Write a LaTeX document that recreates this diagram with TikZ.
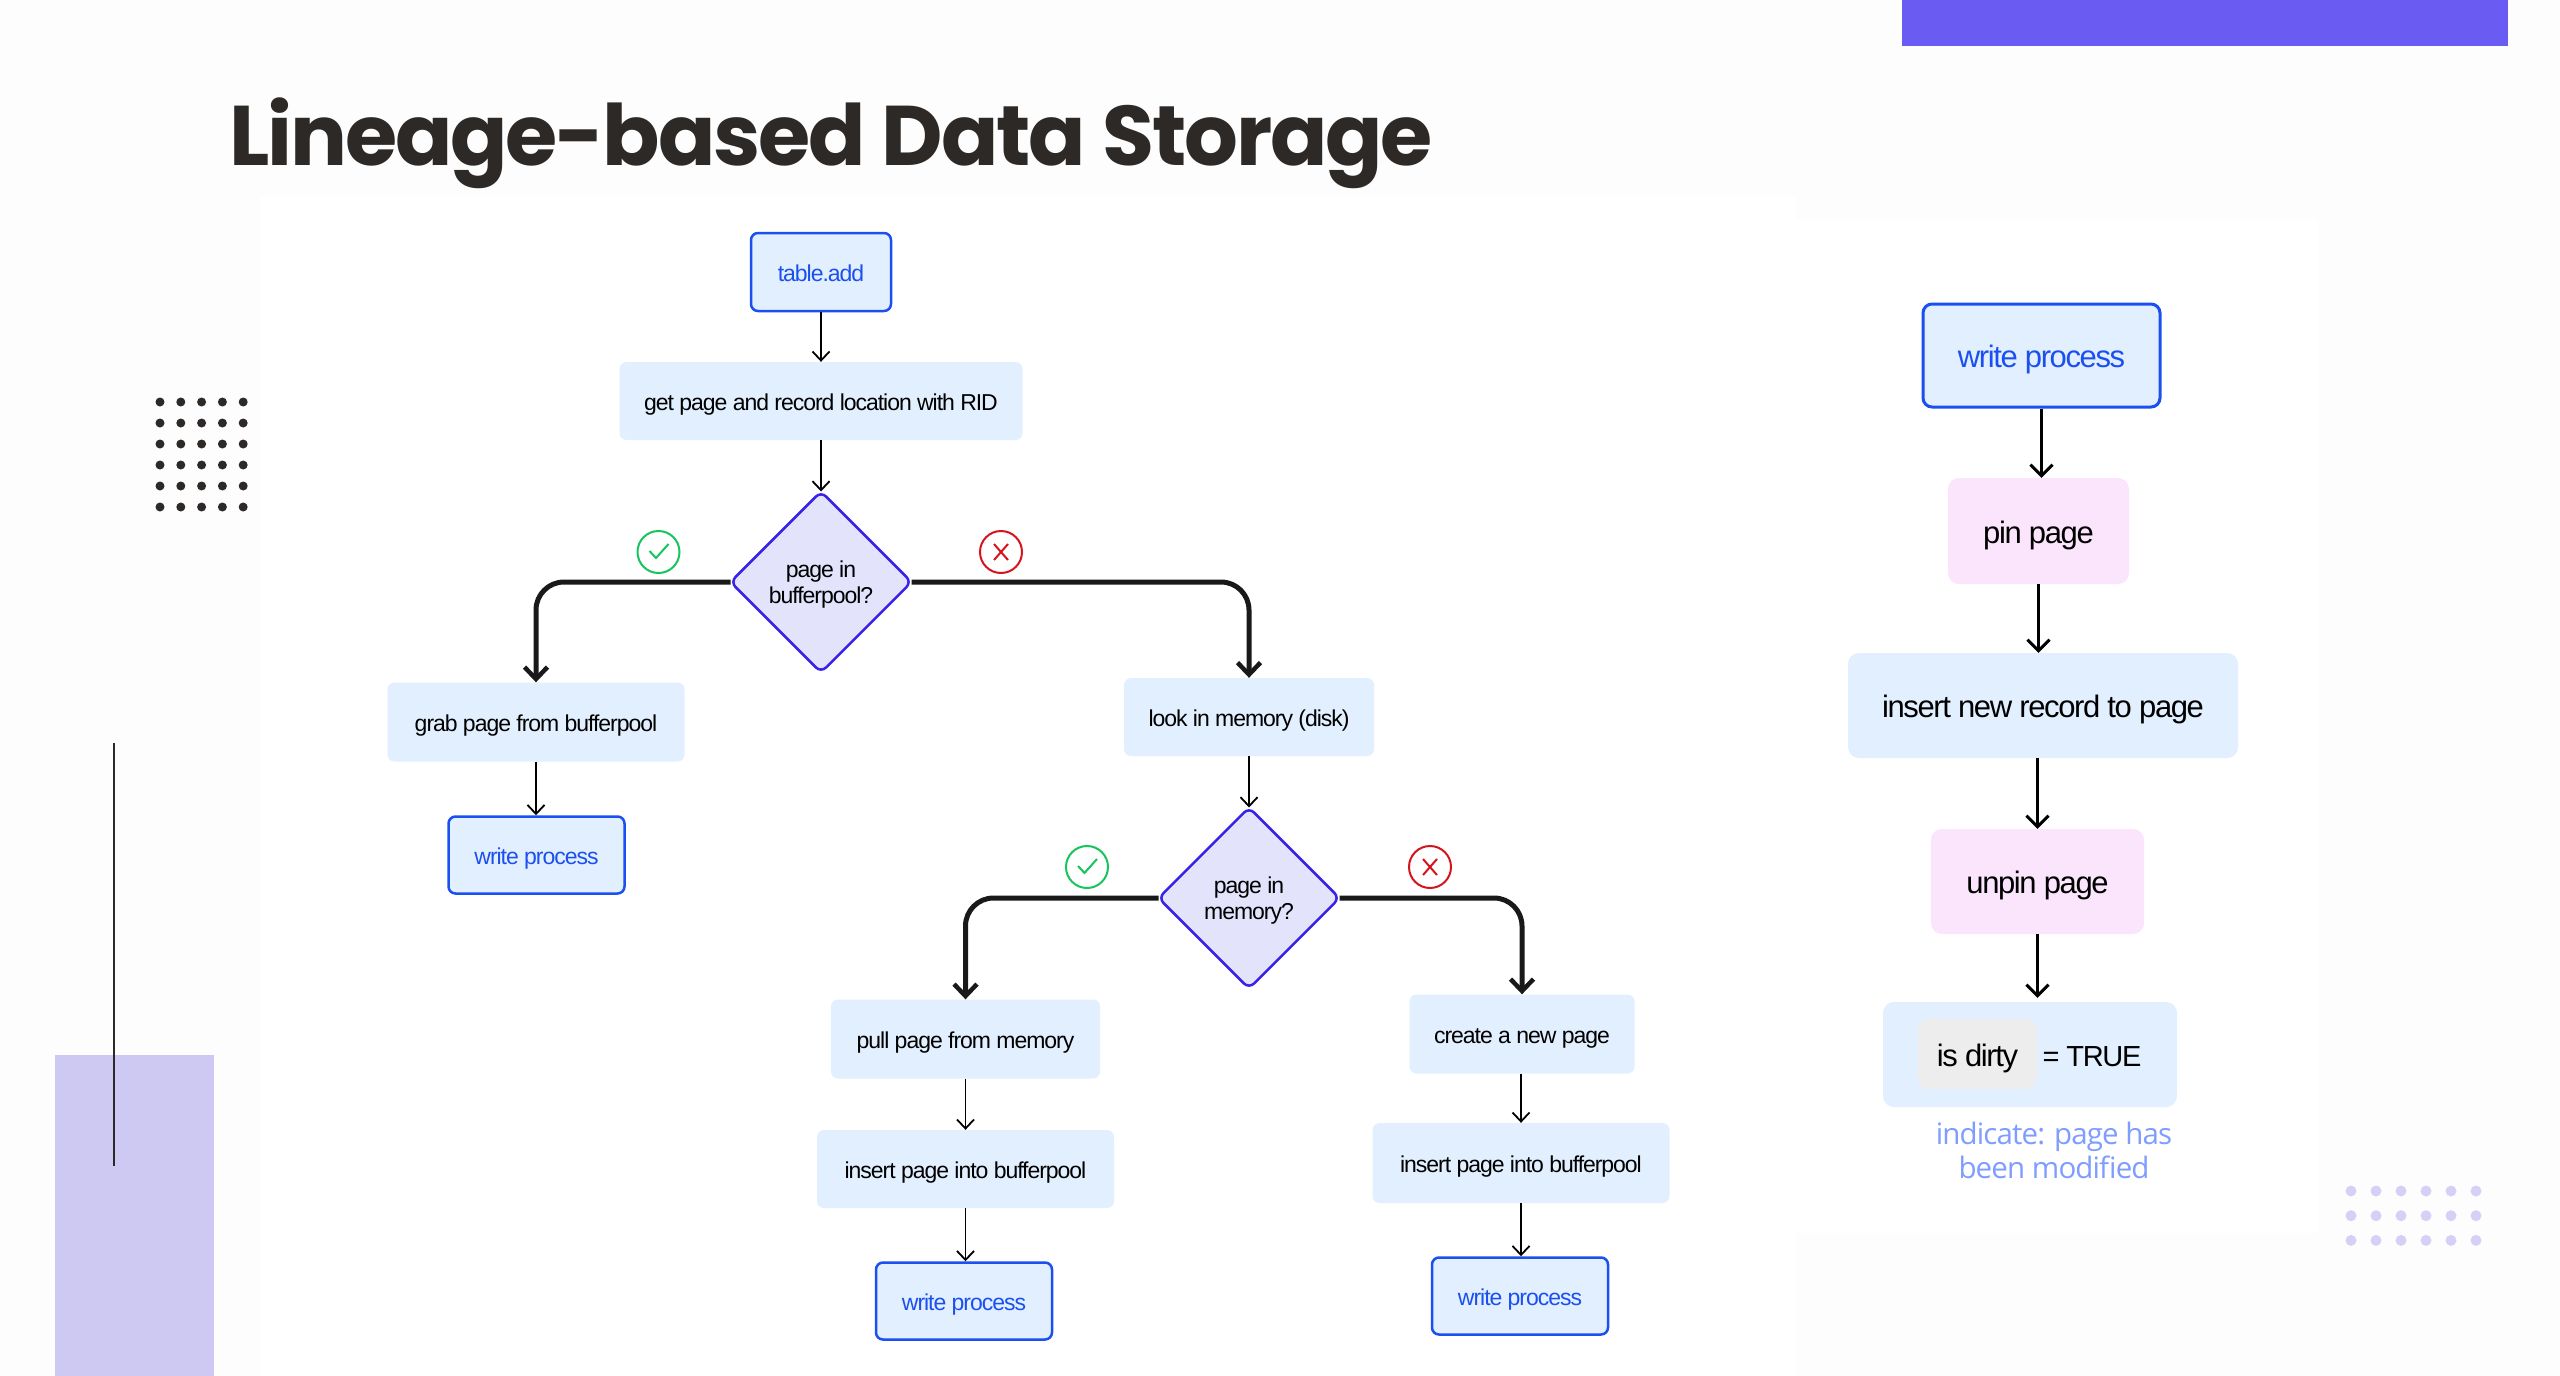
\documentclass[tikz,border=0pt]{standalone}
\usepackage{fontspec}
\usepackage{xcolor}
\usetikzlibrary{arrows.meta, shapes.geometric}

\setmainfont{Liberation Sans}
\newfontfamily\titlefont[LetterSpace=-2.5]{Poppins}
\newfontfamily\boxfont[LetterSpace=-4.5]{Liberation Sans}
\newfontfamily\notefont[LetterSpace=-3]{Open Sans}

\definecolor{pagegray}{HTML}{FDFDFD}
\definecolor{boxblue}{HTML}{E2EFFE}
\definecolor{lineblue}{HTML}{1B4FF0}
\definecolor{diamondfill}{HTML}{E3E4FB}
\definecolor{diamondline}{HTML}{3A22E8}
\definecolor{boxpink}{HTML}{FAE5FC}
\definecolor{titlegray}{HTML}{2D2926}
\definecolor{barviolet}{HTML}{6A5CF2}
\definecolor{blockviolet}{HTML}{CDC9F3}
\definecolor{dotviolet}{HTML}{D5D1F6}
\definecolor{notelblue}{HTML}{7F9DFF}
\definecolor{okgreen}{HTML}{17C45E}
\definecolor{nored}{HTML}{D5141E}

\tikzset{
    procbox/.style={fill=boxblue, rounded corners=7pt, inner sep=0pt, align=center, text=black,
        text height=18pt, text depth=0pt, font=\boxfont\fontsize{23}{28}\selectfont},
    startbox/.style={procbox, draw=lineblue, line width=2.5pt, text=lineblue},
    decision/.style={diamond, aspect=1, fill=diamondfill, draw=diamondline, line width=2.5pt,
        rounded corners=7pt, inner sep=0pt, outer sep=0pt, minimum width=181pt, minimum height=181pt,
        align=center, text depth=0pt, font=\boxfont\fontsize{23}{26}\selectfont},
    sidebox/.style={procbox, rounded corners=11pt, text height=24pt, font=\boxfont\fontsize{31}{36}\selectfont},
    pinkbox/.style={sidebox, fill=boxpink},
    flowarrow/.style={draw=black, line width=1.8pt, -{Straight Barb[length=9pt, width=17pt, line width=1.8pt]}},
    sidearrow/.style={draw=black, line width=3pt, -{Straight Barb[length=11pt, width=22pt, line width=3pt]}},
    bigarrow/.style={draw=black!90, line width=5pt, rounded corners=28pt,
        -{Straight Barb[length=12pt, width=23pt, line width=4.5pt]}},
    yesmark/.style={circle, draw=okgreen, line width=2pt, minimum size=42pt, inner sep=0pt,
        path picture={\draw[okgreen, line width=2pt] (path picture bounding box.center)
            ++(-9,-1) -- ++(6.5,7) -- ++(12.5,-14);}},
    nomark/.style={circle, draw=nored, line width=2pt, minimum size=42pt, inner sep=0pt,
        path picture={\draw[nored, line width=2pt] (path picture bounding box.center)
            ++(-7,-8) -- ++(14,16) ++(0,-16) -- ++(-14,16);}},
}

\begin{document}
\begin{tikzpicture}[x=1pt, y=-1pt]

    % page and panels
    \fill[pagegray] (0,0) rectangle (2560,1376);
    \fill[white] (261,196) rectangle (1796,1376);
    \fill[white] (1796,220) rectangle (2318,1233);

    % decoration
    \fill[barviolet] (1902,0) rectangle (2508,46);
    \fill[blockviolet] (55,1055) rectangle (214,1376);
    \draw[titlegray, line width=2.5pt] (114,743) -- (114,1166);
    \foreach \x in {0,1,2,3,4}
    \foreach \y in {0,1,2,3,4,5}
    \fill[titlegray] (160+20.8*\x, 402+21*\y) circle (4.5);
    \foreach \x in {0,1,2,3,4,5}
    \foreach \y in {0,1,2}
    \fill[dotviolet] (2351+25*\x, 1191+24.7*\y) circle (5.5);

    \node[anchor=base west, inner sep=0pt, text=titlegray, font=\titlefont\bfseries\fontsize{84.6}{100}\selectfont] (title) at (229,165) {Lineage-based Data Storage};

    % main flow
    \node[startbox, minimum width=140pt, minimum height=78pt] (tableadd) at (821,272) {table.add};
    \node[procbox, minimum width=403pt, minimum height=78pt] (getpage) at (821,401) {get page and record location with RID};
    \node[decision] (inpool) at (821,582) {page in\\bufferpool?};
    \node[yesmark] (poolyes) at (658.5,552) {};
    \node[nomark] (poolno) at (1001,552) {};

    \node[procbox, minimum width=297pt, minimum height=79pt] (grabpage) at (536,722) {grab page from bufferpool};
    \node[startbox, minimum width=176pt, minimum height=77pt] (writegrab) at (536.5,855) {write process};

    \node[procbox, minimum width=250pt, minimum height=78pt] (lookdisk) at (1249,717) {look in memory (disk)};
    \node[decision] (inmem) at (1249,898) {page in\\memory?};
    \node[yesmark] (memyes) at (1087,867) {};
    \node[nomark] (memno) at (1430,867) {};

    \node[procbox, minimum width=269pt, minimum height=79pt] (pullpage) at (965.5,1039) {pull page from memory};
    \node[procbox, minimum width=297pt, minimum height=78pt] (insertpull) at (965.5,1169) {insert page into bufferpool};
    \node[startbox, minimum width=176pt, minimum height=77pt] (writepull) at (964,1301) {write process};

    \node[procbox, minimum width=225pt, minimum height=79pt] (createpage) at (1522,1034) {create a new page};
    \node[procbox, minimum width=297pt, minimum height=80pt] (insertnew) at (1521,1163) {insert page into bufferpool};
    \node[startbox, minimum width=176pt, minimum height=77pt] (writenew) at (1520,1296) {write process};

    % write process column
    \node[startbox, rounded corners=9pt, line width=3pt, minimum width=237pt, minimum height=103pt, text height=24pt, font=\boxfont\fontsize{31}{36}\selectfont] (writeside) at (2041.5,355.5) {write process};
    \node[pinkbox, minimum width=181pt, minimum height=106pt] (pinpage) at (2038.5,531) {pin page};
    \node[sidebox, minimum width=390pt, minimum height=105pt] (insertrec) at (2043,705.5) {insert new record to page};
    \node[pinkbox, minimum width=213pt, minimum height=105pt] (unpinpage) at (2037.5,881.5) {unpin page};
    \node[sidebox, minimum width=294pt, minimum height=105pt] (dirtybox) at (2030,1054.5) {};
    \node[sidebox, fill=black!7, minimum width=119pt, minimum height=70pt] (dirtyflag) at (1977.5,1054) {is dirty};
    \node[sidebox, fill=none, font=\boxfont\fontsize{29}{36}\selectfont] (dirtyval) at (2092,1054) {= TRUE};
    \node[inner sep=0pt, align=center, text=notelblue, font=\notefont\fontsize{29.5}{34}\selectfont] (dirtynote) at (2054,1150) {indicate: page has\\been modified};

    % connectors
    \draw[flowarrow] (tableadd) -- (getpage);
    \draw[flowarrow] (getpage) -- (inpool);
    \draw[bigarrow] (inpool.west) -| (grabpage.north);
    \draw[bigarrow] (inpool.east) -| (lookdisk.north);
    \draw[flowarrow] (grabpage.south) -- (grabpage.south |- writegrab.north);
    \draw[flowarrow] (lookdisk) -- (inmem);
    \draw[bigarrow] (inmem.west) -| (pullpage.north);
    \draw[bigarrow] (inmem.east) -| (createpage.north);
    \draw[flowarrow] (pullpage) -- (insertpull);
    \draw[flowarrow] (insertpull.south) -- (insertpull.south |- writepull.north);
    \draw[flowarrow] (createpage.south -| insertnew.north) -- (insertnew.north);
    \draw[flowarrow] (insertnew.south) -- (insertnew.south |- writenew.north);

    \draw[sidearrow] (writeside.south) -- (writeside.south |- pinpage.north);
    \draw[sidearrow] (pinpage.south) -- (pinpage.south |- insertrec.north);
    \draw[sidearrow] (unpinpage.north |- insertrec.south) -- (unpinpage.north);
    \draw[sidearrow] (unpinpage.south) -- ([yshift=4pt]unpinpage.south |- dirtybox.north);

\end{tikzpicture}
\end{document}
